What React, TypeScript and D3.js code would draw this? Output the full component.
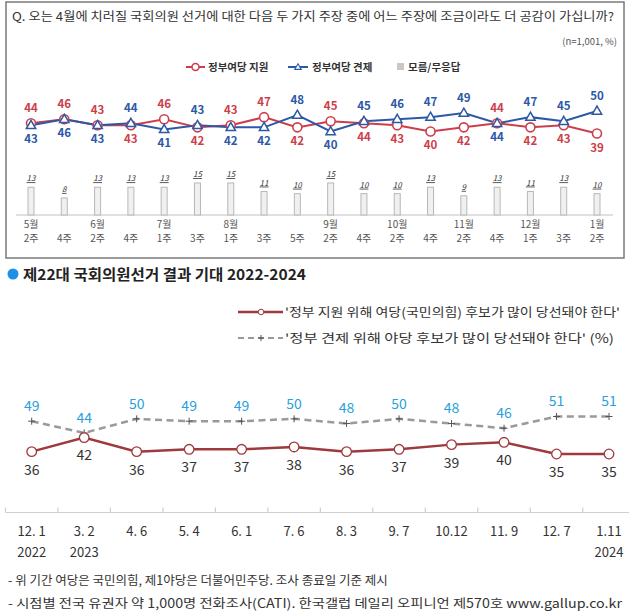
import React from 'react';
import * as d3 from 'd3';

// ---------- data ----------
const topMonths = ['5월', '', '6월', '', '7월', '', '8월', '', '', '9월', '', '10월', '', '11월', '', '12월', '', '1월'];
const topWeeks = ['2주', '4주', '2주', '4주', '1주', '3주', '1주', '3주', '5주', '2주', '4주', '2주', '4주', '2주', '4주', '1주', '3주', '2주'];
const topSupport = [44, 46, 43, 43, 46, 42, 43, 47, 42, 45, 44, 43, 40, 42, 44, 42, 43, 39];
const topCheck = [43, 46, 43, 44, 41, 43, 42, 42, 48, 40, 45, 46, 47, 49, 44, 47, 45, 50];
const topDontKnow = [13, 8, 13, 13, 13, 15, 15, 11, 10, 15, 10, 10, 13, 9, 13, 11, 13, 10];

const botDates = ['12. 1', '3. 2', '4. 6', '5. 4', '6. 1', '7. 6', '8. 3', '9. 7', '10.12', '11. 9', '12. 7', '1.11'];
const botYears = ['2022', '2023', '', '', '', '', '', '', '', '', '', '2024'];
const botSupport = [36, 42, 36, 37, 37, 38, 36, 37, 39, 40, 35, 35];
const botCheck = [49, 44, 50, 49, 49, 50, 48, 50, 48, 46, 51, 51];

const FONT = '"Noto Sans CJK KR", "Noto Sans", sans-serif';
const RED = '#cc3f4a';
const BLUE = '#2c58a6';
const MAROON = '#9e3a3d';
const LBLUE = '#2a9fdc';

export default function App() {
  // top chart scales
  const tIdx = topSupport.map((_, i) => i);
  const xT = d3.scalePoint<number>().domain(tIdx).range([31, 597]);
  const yT = d3.scaleLinear().domain([39, 50]).range([133.5, 111]);
  const barBase = 215;
  const hB = d3.scaleLinear().domain([0, 15]).range([0, 32]);
  const lineT = d3.line<number>().x((_, i) => xT(i) as number).y((d) => yT(d));
  const tri = d3.symbol().type(d3.symbolTriangle).size(38)();

  // bottom chart scales
  const bIdx = botSupport.map((_, i) => i);
  const xB = d3.scalePoint<number>().domain(bIdx).range([31.7, 609]);
  const step = xB.step();
  const yB = d3.scaleLinear().domain([35, 51]).range([454, 416.5]);
  const lineB = d3.line<number>().x((_, i) => xB(i) as number).y((d) => yB(d));
  const axisB = 512.5;

  const plus = (x: number, y: number, key: string, s = 3.5) => (
    <g key={key} stroke="#555" strokeWidth={1}>
      <line x1={x - s} x2={x + s} y1={y} y2={y} />
      <line x1={x} x2={x} y1={y - s} y2={y + s} />
    </g>
  );

  return (
    <svg width={629} height={616} style={{ position: 'absolute', left: 0, top: 0, background: '#fff' }} fontFamily={FONT}>
      {/* ---------- top box ---------- */}
      <rect x={6} y={2} width={618} height={256} fill="#fff" stroke="#7a7a7a" strokeWidth={1.5} />
      <text x={12} y={21} fontSize={12} fill="#333" textLength={602} lengthAdjust="spacingAndGlyphs">
        Q. 오는 4월에 치러질 국회의원 선거에 대한 다음 두 가지 주장 중에 어느 주장에 조금이라도 더 공감이 가십니까?
      </text>
      <text x={617} y={45} fontSize={9.5} fill="#555" textAnchor="end">(n=1,001,  %)</text>

      {/* legend */}
      <g fontSize={10.5} fill="#333" fontWeight={600}>
        <line x1={186} x2={205} y1={67} y2={67} stroke={RED} strokeWidth={2} />
        <circle cx={195.5} cy={67} r={3.5} fill="#fff" stroke={RED} strokeWidth={1.5} />
        <text x={208} y={71}>정부여당 지원</text>
        <line x1={288} x2={308} y1={67} y2={67} stroke={BLUE} strokeWidth={2} />
        <path d={tri} transform="translate(298,67.5) scale(0.7)" fill="#fff" stroke={BLUE} strokeWidth={1.5} />
        <text x={312} y={71}>정부여당 견제</text>
        <rect x={397} y={63} width={7} height={7} fill="#c8c8c8" />
        <text x={408} y={71}>모름/무응답</text>
      </g>

      {/* axis line */}
      <line x1={16} x2={613} y1={barBase} y2={barBase} stroke="#d6d6d6" strokeWidth={1.5} />

      {/* bars */}
      {topDontKnow.map((v, i) => {
        const x = xT(i) as number;
        const h = hB(v);
        return (
          <g key={'b' + i}>
            <rect x={x - 3} y={barBase - h} width={6} height={h} fill="#f0f0f0" stroke="#b8b8b8" strokeWidth={1} />
            <text x={x} y={barBase - h - 6} fontSize={8} fontStyle="italic" textAnchor="middle" fill="#333" textDecoration="underline">{v}</text>
          </g>
        );
      })}

      {/* lines */}
      <path d={lineT(topSupport) || ''} fill="none" stroke={RED} strokeWidth={2} />
      <path d={lineT(topCheck) || ''} fill="none" stroke={BLUE} strokeWidth={2} />
      {topSupport.map((v, i) => (
        <circle key={'rc' + i} cx={xT(i)} cy={yT(v)} r={4.5} fill="#fff" stroke={RED} strokeWidth={1.6} />
      ))}
      {topCheck.map((v, i) => (
        <path key={'bt' + i} d={tri} transform={`translate(${xT(i)},${yT(v) + 0.5})`} fill="#fff" stroke={BLUE} strokeWidth={1.5} />
      ))}

      {/* value labels */}
      <g fontSize={11.5} fontWeight={600} textAnchor="middle">
        {topSupport.map((r, i) => {
          const b = topCheck[i];
          const redAbove = r >= b;
          const x = xT(i) as number;
          return (
            <g key={'lab' + i}>
              <text x={x} y={redAbove ? yT(r) - 15 : yT(r) + 14} dy="0.35em" fill={RED}>{r}</text>
              <text x={x} y={redAbove ? yT(b) + 14 : yT(b) - 15} dy="0.35em" fill={BLUE}>{b}</text>
            </g>
          );
        })}
      </g>

      {/* x labels */}
      <g fontSize={10} fill="#555" textAnchor="middle">
        {topWeeks.map((w, i) => {
          const x = xT(i) as number;
          return (
            <g key={'xl' + i}>
              {topMonths[i] && <text x={x} y={228}>{topMonths[i]}</text>}
              <text x={x} y={241.5}>{w}</text>
            </g>
          );
        })}
      </g>

      {/* ---------- bottom section ---------- */}
      <circle cx={13} cy={274} r={5.5} fill="#1e90e6" />
      <text x={23} y={280} fontSize={15} fontWeight={600} fill="#222" textLength={283} lengthAdjust="spacingAndGlyphs">제22대 국회의원선거 결과 기대 2022-2024</text>

      <g fontSize={12.5} fill="#333">
        <line x1={238} x2={283} y1={312} y2={312} stroke={MAROON} strokeWidth={2.5} />
        <circle cx={261} cy={312} r={2.8} fill="#fff" stroke={MAROON} strokeWidth={1} />
        <text x={285} y={317} textLength={335} lengthAdjust="spacingAndGlyphs">'정부 지원 위해 여당(국민의힘) 후보가 많이 당선돼야 한다'</text>
        <line x1={238} x2={283} y1={338} y2={338} stroke="#9a9a9a" strokeWidth={2} strokeDasharray="6,4" />
        {plus(261, 338, 'lp', 3)}
        <text x={285} y={343} textLength={329} lengthAdjust="spacingAndGlyphs">'정부 견제 위해 야당 후보가 많이 당선돼야 한다' (%)</text>
      </g>

      {/* bottom lines */}
      <path d={lineB(botCheck) || ''} fill="none" stroke="#9a9a9a" strokeWidth={2.5} strokeDasharray="7,4.5" />
      {botCheck.map((v, i) => plus(xB(i) as number, yB(v), 'p' + i))}
      <path d={lineB(botSupport) || ''} fill="none" stroke={MAROON} strokeWidth={2.5} />
      {botSupport.map((v, i) => (
        <circle key={'bc' + i} cx={xB(i)} cy={yB(v)} r={4.8} fill="#fff" stroke={MAROON} strokeWidth={1.3} />
      ))}
      <g fontSize={14} textAnchor="middle">
        {botCheck.map((v, i) => (
          <text key={'bcl' + i} x={xB(i)} y={yB(v) - 15} dy="0.35em" fill={LBLUE}>{v}</text>
        ))}
        {botSupport.map((v, i) => (
          <text key={'bsl' + i} x={xB(i)} y={yB(v) + 18} dy="0.35em" fill="#333">{v}</text>
        ))}
      </g>

      {/* bottom axis */}
      <line x1={5.5} x2={629} y1={axisB} y2={axisB} stroke="#d0d0d0" strokeWidth={1.2} />
      {bIdx.map((i) => {
        const x = (xB(i) as number) - step / 2;
        return <line key={'tk' + i} x1={x} x2={x} y1={axisB} y2={axisB - 5} stroke="#d0d0d0" strokeWidth={1.2} />;
      })}
      <g fontSize={13} fill="#333" textAnchor="middle">
        {botDates.map((d, i) => (
          <g key={'bd' + i}>
            <text x={xB(i)} y={536}>{d}</text>
            {botYears[i] && <text x={xB(i)} y={557}>{botYears[i]}</text>}
          </g>
        ))}
      </g>

      {/* footnotes */}
      <g fontSize={12.5} fill="#333">
        <text x={8} y={585}>- 위 기간 여당은 국민의힘, 제1야당은 더불어민주당. 조사 종료일 기준 제시</text>
        <text x={8} y={608} textLength={614} lengthAdjust="spacingAndGlyphs">- 시점별 전국 유권자 약 1,000명 전화조사(CATI). 한국갤럽 데일리 오피니언 제570호 www.gallup.co.kr</text>
      </g>
    </svg>
  );
}
